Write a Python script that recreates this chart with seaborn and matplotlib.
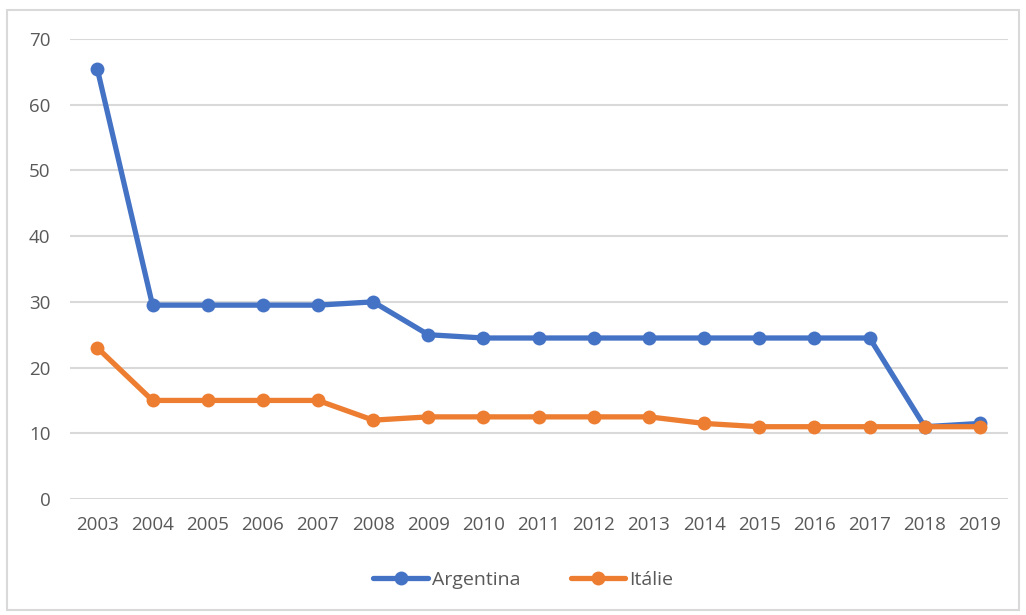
import numpy as np
import pandas as pd
import matplotlib.pyplot as plt
import seaborn as sns
from matplotlib.patches import Rectangle

years = list(range(2003, 2020))
argentina = [65.4, 29.5, 29.5, 29.5, 29.5, 30, 25, 24.5, 24.5, 24.5, 24.5, 24.5, 24.5, 24.5, 24.5, 11, 11.5]
italie = [23, 15, 15, 15, 15, 12, 12.5, 12.5, 12.5, 12.5, 12.5, 11.5, 11, 11, 11, 11, 11]
series_names = ['Argentina', 'Itálie']
colors = ['#4472C4', '#ED7D31']

df = pd.DataFrame({
    'year': years * 2,
    'value': argentina + italie,
    'country': [series_names[0]] * len(years) + [series_names[1]] * len(years),
})

sns.set_style('white')
plt.rcParams['font.family'] = ['Open Sans', 'DejaVu Sans']

fig = plt.figure(figsize=(10.26, 6.15), dpi=100)
ax = fig.add_axes([0.068, 0.1886, 0.914, 0.748])

sns.lineplot(data=df, x='year', y='value', hue='country', palette=colors,
             marker='o', markersize=10, markeredgewidth=0, linewidth=3.8,
             ax=ax, legend=True)

ax.set_xlim(2002.5, 2019.5)
ax.set_ylim(0, 70)
ax.set_xticks(years)
ax.set_xticklabels([str(y) for y in years])
ax.set_yticks(range(0, 71, 10))
ax.yaxis.grid(True, color='#D9D9D9', linewidth=1.5)
ax.set_axisbelow(True)
for s in ax.spines.values():
    s.set_visible(False)
ax.tick_params(axis='both', length=0, labelsize=13.5, colors='#595959', pad=12)
ax.tick_params(axis='y', pad=14)
ax.set_xlabel('')
ax.set_ylabel('')

handles, labels = ax.get_legend_handles_labels()
ax.get_legend().remove()
fig.legend(handles, labels, loc='center', bbox_to_anchor=(0.51, 0.057), ncol=2,
           frameon=False, fontsize=14, handlelength=2.8, columnspacing=2.6,
           handletextpad=0.2, labelcolor='#595959')

fig.patches.append(Rectangle((0.007, 0.008), 0.986, 0.976, transform=fig.transFigure,
                             fill=False, edgecolor='#D9D9D9', linewidth=1.5))

fig.savefig('out.png', dpi=100)
